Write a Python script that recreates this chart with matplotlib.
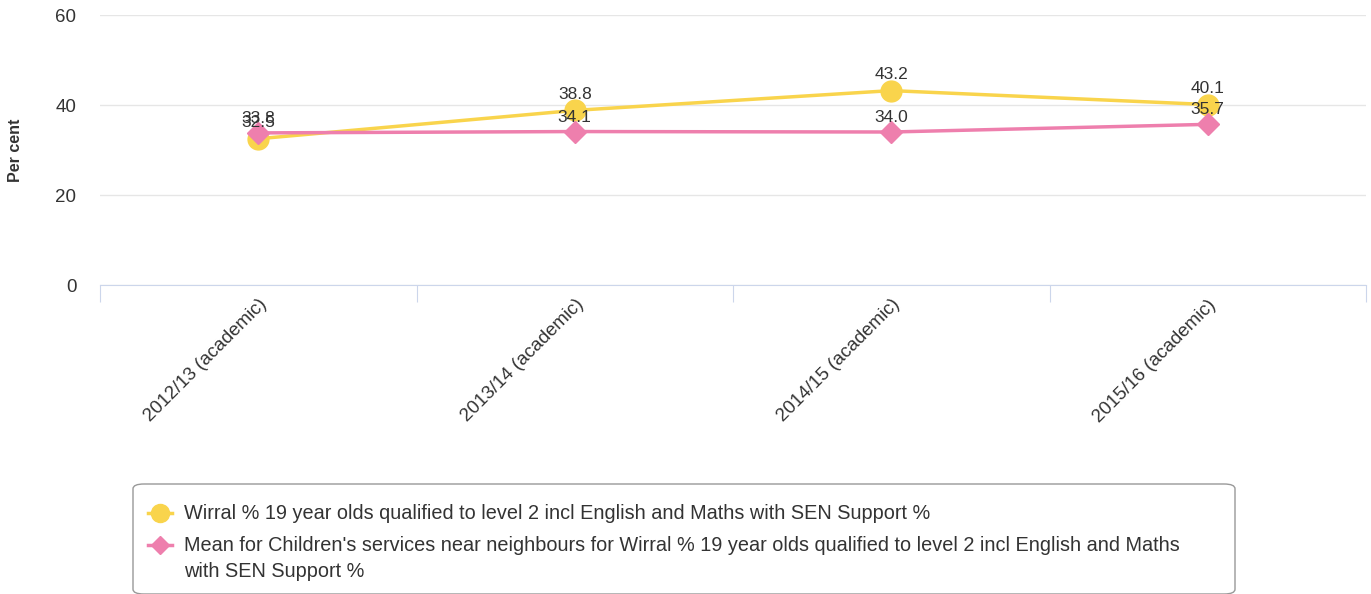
import numpy as np
import matplotlib
matplotlib.use("Agg")
from matplotlib import pyplot as plt
from matplotlib.patches import FancyBboxPatch

plt.rcParams['font.family'] = ['Liberation Sans', 'DejaVu Sans']

years = ["2012/13 (academic)", "2013/14 (academic)", "2014/15 (academic)", "2015/16 (academic)"]
wirral = [32.5, 38.8, 43.2, 40.1]
neighbours = [33.8, 34.1, 34.0, 35.7]
name_wirral = "Wirral % 19 year olds qualified to level 2 incl English and Maths with SEN Support %"
name_neigh = ("Mean for Children's services near neighbours for Wirral % 19 year olds qualified to level 2 incl English and Maths\n"
              "with SEN Support %")

yellow = "#f9d44c"
pink = "#ee7fad"
txt = "#333333"

fig = plt.figure(figsize=(13.71, 5.94), dpi=100)
W, H = 1371, 594
ax = fig.add_axes([100 / W, 1 - 285 / H, 1266 / W, 270 / H])

x = np.arange(len(years))
ax.plot(x, wirral, color=yellow, lw=2.5, marker="o", ms=15, zorder=3)
ax.plot(x, neighbours, color=pink, lw=2.5, marker="D", ms=11, zorder=4)

# data labels
for xi, v in zip(x, wirral):
    ax.annotate(f"{v:.1f}", (xi, v), xytext=(0, 6), textcoords="offset points",
                ha="center", va="bottom", fontsize=12.5, color=txt, zorder=5)
for xi, v in zip(x, neighbours):
    ax.annotate(f"{v:.1f}", (xi, v), xytext=(0, 5), textcoords="offset points",
                ha="center", va="bottom", fontsize=12.5, color=txt, zorder=5)

ax.set_xlim(-0.5, len(years) - 0.5)
ax.set_ylim(0, 60)
ax.set_yticks([0, 20, 40, 60])
ax.yaxis.grid(True, color="#e6e6e6", lw=1)
ax.set_axisbelow(True)
for s in ["top", "right", "left"]:
    ax.spines[s].set_visible(False)
ax.spines["bottom"].set_color("#ccd6eb")
ax.tick_params(axis="y", length=0, labelsize=13.5, colors=txt, pad=17)

ax.set_xticks(np.arange(-0.5, len(years)), minor=False)
ax.set_xticklabels([""] * (len(years) + 1))
ax.tick_params(axis="x", which="major", length=12, color="#ccd6eb", direction="out")
ax.set_xticks(x, minor=True)
ax.set_xticklabels(years, minor=True, rotation=45, ha="right", rotation_mode="anchor",
                   fontsize=13.5, color=txt)
ax.tick_params(axis="x", which="minor", length=0, pad=8)

fig.text(15 / W, 1 - 150 / H, "Per cent", rotation=90, ha="center", va="center",
         fontsize=11.5, fontweight="bold", color=txt)

# legend box
box = FancyBboxPatch((133 / W, 1 - 594 / H), 1102 / W, 110 / H,
                     boxstyle="round,pad=0,rounding_size=0.008", transform=fig.transFigure,
                     fc="white", ec="#999999", lw=1)
fig.patches.append(box)
for yy, col, mk, ms, label in [(513, yellow, "o", 13, name_wirral), (545, pink, "D", 9, name_neigh)]:
    fig.lines.append(plt.Line2D([148 / W, 172 / W], [1 - yy / H] * 2, color=col, lw=2.5,
                                transform=fig.transFigure))
    fig.lines.append(plt.Line2D([160 / W], [1 - yy / H], color=col, marker=mk, ms=ms,
                                transform=fig.transFigure))
    fig.text(184 / W, 1 - (yy - 9) / H, label, fontsize=14.3, color=txt, va="top",
             linespacing=1.45)

fig.savefig("out.png", dpi=100)
